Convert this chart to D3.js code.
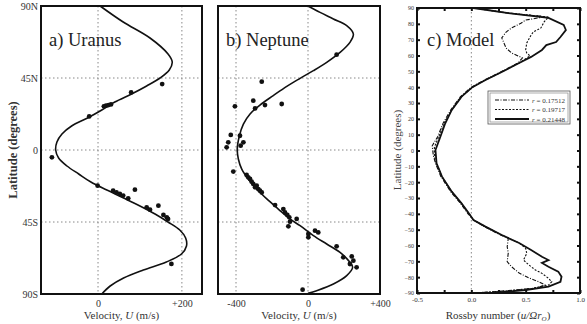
<!DOCTYPE html>
<html>
<head>
<meta charset="utf-8">
<script src="https://cdn.jsdelivr.net/npm/d3@7"></script>
<style>
  body { margin: 0; background: #fff; }
  svg, svg text { font-family: "Liberation Serif", "DejaVu Serif", serif !important; }
  svg { display: block; }
  .tick text { fill: #333; }
  .frame { fill: none; stroke: #111; stroke-width: 2; }
  .grid { stroke: #888; stroke-width: 1; stroke-dasharray: 1.5,2.5; }
</style>
</head>
<body>
<svg id="chart" width="587" height="324"></svg>
<script>
// ---- data: [latitude, value] ----
const uranusCurve = [[90,5],[80,60],[70,124],[60,167],[55,177],[50,170],[45,148],[40,116],[35,80],[30,40],
  [25,9],[20,-25],[15,-63],[10,-86],[5,-98],[0,-101],[-5,-94],[-10,-74],[-15,-46],[-20,-17],[-25,21],
  [-30,61],[-35,100],[-40,136],[-45,167],[-50,195],[-55,209],[-60,211],[-65,199],[-70,163],[-75,108],
  [-80,61],[-85,29],[-90,9]];
const uranusObs = [[41.2,153],[36,79],[21,-21],[27.7,19],[28.1,25],[28.5,31],[27.3,14],[-4.6,-110],
  [-22.3,-1],[-24.8,88],[-25.4,36],[-26.5,44],[-27.5,52],[-28.5,60],[-30.2,72],[-35.8,116],[-37.3,124],
  [-34.8,144],[-40.6,156],[-42.1,164],[-43.1,167],[-71.2,175]];

const neptuneCurve = [[90,0],[86,67],[81.9,141],[77.7,215],[72.5,252],[67.3,233],[61,178],[54.8,104],
  [49.6,30],[44.8,-44],[39.8,-118],[34,-193],[28.1,-267],[22.5,-322],[16.2,-359],[8.9,-381],[0.6,-393],
  [-5.6,-387],[-11.9,-368],[-18.1,-332],[-24.4,-285],[-30.6,-229],[-36.9,-165],[-43.1,-100],[-47.3,-44],
  [-53.5,30],[-58.75,104],[-64,178],[-70.2,233],[-73.3,248],[-78.5,215],[-83.75,141],[-87.9,48],[-89.6,0]];
const neptuneObs = [[59.6,159],[42.7,-257],[30.8,-304],[27.3,-406],[28.1,-239],[28.75,-146],[26,-294],
  [9.4,-429],[4.8,-443],[1.7,-452],[8.9,-378],[4.8,-359],[2.7,-374],[-13.5,-415],[-15.6,-341],[-17.1,-332],
  [-18.1,-322],[-19.8,-313],[-21.25,-304],[-22.3,-285],[-24.4,-276],[-25.4,-267],[-23.3,-294],[-26.5,-257],
  [-34.4,-183],[-36.9,-137],[-39,-128],[-40.6,-115],[-42.1,-104],[-44.8,-100],[-47.7,-109],[-43.1,-63],
  [-52.5,2],[-54.6,2],[-50.4,39],[-51.5,57],[-60.2,159],[-67.1,196],[-66.5,243],[-69.2,252],[-71.25,233],
  [-73.3,270],[-87.3,-30]];

// model Rossby number profiles, [latitude, Ro]
const modelR17512 = [[90,0.02],[86.8,0.34],[84.5,0.68],[82.4,0.5],[80.5,0.46],[77.4,0.37],[74.8,0.32],
  [71.1,0.28],[67.9,0.3],[64.7,0.32],[61.6,0.37],[58.5,0.47],[55.3,0.43],[49.6,0.27],[44.5,0.12],[40,0],
  [34,-0.1],[25.6,-0.19],[17.2,-0.26],[8.7,-0.31],[3,-0.36],[-3,-0.35],[-8.1,-0.33],[-16.5,-0.28],
  [-26,-0.19],[-33.4,-0.1],[-40,-0.03],[-43.9,0.02],[-48.1,0.12],[-53.4,0.27],[-55.5,0.34],[-60.8,0.33],
  [-64.7,0.34],[-70.2,0.33],[-73.4,0.37],[-77.4,0.44],[-80.5,0.53],[-82.9,0.62],[-85,0.68],[-87,0.59],
  [-88.5,0.34],[-90,0.02]];
const modelR19717 = [[90,0.02],[86.8,0.34],[84.3,0.71],[81.2,0.67],[77.4,0.64],[74.8,0.57],[72.9,0.55],
  [67.9,0.51],[63.5,0.5],[61.6,0.51],[59.7,0.54],[55.3,0.44],[49.6,0.28],[44.5,0.13],[40,0.01],[34,-0.09],
  [25.6,-0.18],[17.2,-0.25],[8.7,-0.3],[2,-0.34],[-4,-0.34],[-8.1,-0.32],[-16.5,-0.27],[-26,-0.18],
  [-33.4,-0.09],[-40,-0.02],[-43.9,0.02],[-48.1,0.13],[-53.4,0.28],[-58.4,0.44],[-61.8,0.5],[-65,0.51],
  [-69.2,0.48],[-72.3,0.53],[-75.5,0.59],[-77.6,0.65],[-80.7,0.71],[-82.9,0.74],[-85,0.71],[-87,0.56],
  [-88.7,0.34],[-90,0.02]];
const modelR21448 = [[90,0.02],[86.8,0.34],[83.7,0.71],[79.3,0.85],[76.1,0.87],[71.7,0.82],[68.5,0.78],
  [66.6,0.69],[63.5,0.65],[59.1,0.55],[55.3,0.44],[49.6,0.28],[44.5,0.13],[40,0.01],[34,-0.09],
  [25.6,-0.18],[17.2,-0.24],[8.7,-0.285],[0.3,-0.33],[-8.1,-0.32],[-16.5,-0.27],[-26,-0.18],[-33.4,-0.09],
  [-40,-0.02],[-43.9,0.02],[-48.1,0.13],[-53.4,0.28],[-58.4,0.44],[-62.8,0.55],[-67.1,0.65],[-69.2,0.71],
  [-71,0.65],[-73.4,0.71],[-76.5,0.8],[-79.7,0.83],[-82.9,0.82],[-86,0.71],[-88.1,0.5],[-89.8,0.22],[-90,0.02]];

const modelSeries = ['r = 0.17512', 'r = 0.19717', 'r = 0.21448'];

// tick labels
const latTicks = [90, 45, 0, -45, -90];
const latLabels = ['90N', '45N', '0', '45S', '90S'];
const uranusTicks = [0, 200];
const uranusTickLabels = ['0', '+200'];
const neptuneTicks = [-400, 0, 400];
const neptuneTickLabels = ['-400', '0', '+400'];
const modelLatTicks = d3.range(90, -91, -10);
const modelRoTicks = [-0.5, 0, 0.5, 1.0];
const modelRoLabels = ['-0.5', '0.0', '0.5', '1.0'];

const FONT = 'Liberation Serif';
const svg = d3.select('#chart');

// ---------- panels a) and b) ----------
function drawPlanet(cfg) {
  const x = d3.scaleLinear().domain(cfg.domain).range([cfg.left, cfg.right]);
  const y = d3.scaleLinear().domain([-90, 90]).range([294, 6]);
  const g = svg.append('g');

  // dotted grid
  g.selectAll('.vgrid').data(cfg.grid).join('line')
    .attr('class', 'grid')
    .attr('x1', d => x(d)).attr('x2', d => x(d))
    .attr('y1', y(90)).attr('y2', y(-90));
  g.selectAll('.hgrid').data([45, 0, -45]).join('line')
    .attr('class', 'grid')
    .attr('x1', cfg.left).attr('x2', cfg.right)
    .attr('y1', d => y(d)).attr('y2', d => y(d));

  // axes
  const xAxis = d3.axisBottom(x).tickValues(cfg.ticks)
    .tickFormat((d, i) => cfg.tickLabels[i]).tickSize(0).tickPadding(6);
  g.append('g').attr('transform', `translate(0,${y(-90)})`).call(xAxis)
    .attr('font-family', FONT)
    .call(a => a.select('.domain').remove())
    .selectAll('text').style('font-size', '10px');

  if (cfg.showLat) {
    const yAxis = d3.axisLeft(y).tickValues(latTicks)
      .tickFormat((d, i) => latLabels[i]).tickSize(0).tickPadding(3);
    g.append('g').attr('transform', `translate(${cfg.left},0)`).call(yAxis)
      .attr('font-family', FONT)
      .call(a => a.select('.domain').remove())
      .selectAll('text').style('font-size', '10px');
  }

  // curve and observations
  const line = d3.line()
    .x(d => x(d[1])).y(d => y(d[0]))
    .curve(d3.curveCatmullRom.alpha(0.5));
  g.append('path').datum(cfg.curve)
    .attr('d', line).attr('fill', 'none').attr('stroke', '#111').attr('stroke-width', 1.6);

  g.selectAll('.obs').data(cfg.obs).join('circle')
    .attr('cx', d => x(d[1])).attr('cy', d => y(d[0])).attr('r', 2.4).attr('fill', '#111');

  g.append('rect').attr('class', 'frame')
    .attr('x', cfg.left).attr('y', y(90))
    .attr('width', cfg.right - cfg.left).attr('height', y(-90) - y(90));

  g.append('text').attr('x', cfg.left + 8).attr('y', 46)
    .style('font-size', '18.5px').attr('fill', '#222').text(cfg.title);

  const xl = g.append('text').attr('x', (cfg.left + cfg.right) / 2).attr('y', 319)
    .attr('text-anchor', 'middle').style('font-size', '11px').attr('fill', '#333');
  xl.append('tspan').text('Velocity, ');
  xl.append('tspan').style('font-style', 'italic').text('U');
  xl.append('tspan').text(' (m/s)');
}

drawPlanet({ left: 41, right: 202, domain: [-136, 248], grid: [0, 200],
  ticks: uranusTicks, tickLabels: uranusTickLabels, curve: uranusCurve, obs: uranusObs,
  title: 'a) Uranus', showLat: true });
drawPlanet({ left: 218, right: 380, domain: [-500, 400], grid: [-400, 0],
  ticks: neptuneTicks, tickLabels: neptuneTickLabels, curve: neptuneCurve, obs: neptuneObs,
  title: 'b) Neptune', showLat: false });

svg.append('text')
  .attr('transform', 'translate(17,150) rotate(-90)')
  .attr('text-anchor', 'middle').style('font-size', '12.5px').style('font-weight', 'bold')
  .attr('fill', '#333').text('Latitude (degrees)');

// ---------- panel c) ----------
const cx = d3.scaleLinear().domain([-0.5, 1.0]).range([417, 580]);
const cy = d3.scaleLinear().domain([-90, 90]).range([293, 8]);
const gc = svg.append('g');

gc.append('line').attr('class', 'grid')
  .attr('x1', cx(0)).attr('x2', cx(0)).attr('y1', cy(90)).attr('y2', cy(-90));

const minorRo = d3.range(-0.5, 1.01, 0.25);
gc.append('g').attr('transform', `translate(0,${cy(-90)})`)
  .call(d3.axisBottom(cx).tickValues(modelRoTicks).tickFormat((d, i) => modelRoLabels[i])
    .tickSize(0).tickPadding(4))
  .attr('font-family', FONT)
  .call(a => a.select('.domain').remove())
  .selectAll('text').style('font-size', '7px');
gc.append('g').attr('transform', `translate(0,${cy(-90)})`)
  .call(d3.axisTop(cx).tickValues(minorRo).tickFormat('').tickSize(3))
  .call(a => a.select('.domain').remove())
  .selectAll('line').attr('stroke', '#111').attr('stroke-width', 2);
gc.append('g').attr('transform', `translate(0,${cy(90)})`)
  .call(d3.axisBottom(cx).tickValues(minorRo).tickFormat('').tickSize(3))
  .call(a => a.select('.domain').remove())
  .selectAll('line').attr('stroke', '#111').attr('stroke-width', 2);

gc.append('g').attr('transform', `translate(${cx(-0.5)},0)`)
  .call(d3.axisRight(cy).tickValues(modelLatTicks).tickFormat('').tickSize(3))
  .call(a => a.select('.domain').remove())
  .selectAll('line').attr('stroke', '#111').attr('stroke-width', 2);
gc.append('g').attr('transform', `translate(${cx(-0.5)},0)`)
  .call(d3.axisLeft(cy).tickValues(modelLatTicks).tickFormat(d3.format('d')).tickSize(0).tickPadding(3))
  .attr('font-family', FONT)
  .call(a => a.select('.domain').remove())
  .selectAll('text').style('font-size', '6px');
gc.append('g').attr('transform', `translate(${cx(1.0)},0)`)
  .call(d3.axisLeft(cy).tickValues(modelLatTicks).tickFormat('').tickSize(3))
  .call(a => a.select('.domain').remove())
  .selectAll('line').attr('stroke', '#111').attr('stroke-width', 2);

const mline = d3.line().x(d => cx(d[1])).y(d => cy(d[0]));
const modelData = [modelR17512, modelR19717, modelR21448];
const modelDash = ['4,1.5,1,1.5', '2,1.5', null];
const modelWidth = [1.1, 1.1, 1.8];

gc.selectAll('.model').data(modelData).join('path')
  .attr('class', 'model')
  .attr('d', mline).attr('fill', 'none').attr('stroke', '#111')
  .attr('stroke-width', (d, i) => modelWidth[i])
  .attr('stroke-dasharray', (d, i) => modelDash[i]);

gc.append('rect').attr('class', 'frame')
  .attr('x', cx(-0.5)).attr('y', cy(90))
  .attr('width', cx(1.0) - cx(-0.5)).attr('height', cy(-90) - cy(90));

gc.append('text').attr('x', 427).attr('y', 46)
  .style('font-size', '18.5px').attr('fill', '#222').text('c) Model');

// legend
const lg = gc.append('g').attr('transform', 'translate(488,91)');
lg.append('rect').attr('width', 82).attr('height', 33)
  .attr('fill', '#fff').attr('stroke', '#555').attr('stroke-width', 0.8);
lg.append('rect').attr('x', 2).attr('y', 2).attr('width', 78).attr('height', 29)
  .attr('fill', 'none').attr('stroke', '#777').attr('stroke-width', 0.6);
const li = lg.selectAll('.li').data(modelSeries).join('g')
  .attr('transform', (d, i) => `translate(0,${9 + i * 9.5})`);
li.append('line').attr('x1', 7).attr('x2', 41).attr('y1', 0).attr('y2', 0)
  .attr('stroke', '#111')
  .attr('stroke-width', (d, i) => i === 2 ? 1.8 : 1.2)
  .attr('stroke-dasharray', (d, i) => modelDash[i]);
const lt = li.append('text').attr('x', 44).attr('y', 2.5).style('font-size', '7px').attr('fill', '#333');
lt.append('tspan').style('font-style', 'italic').text(d => d.split(' ')[0]);
lt.append('tspan').text(d => ' ' + d.split(' ').slice(1).join(' '));

// axis titles
svg.append('text')
  .attr('transform', 'translate(401,150) rotate(-90)')
  .attr('text-anchor', 'middle').style('font-size', '11px').attr('fill', '#444')
  .text('Latitude (degrees)');

const rt = svg.append('text').attr('x', 498).attr('y', 319)
  .attr('text-anchor', 'middle').style('font-size', '11px').attr('fill', '#333');
rt.append('tspan').text('Rossby number (');
rt.append('tspan').style('font-style', 'italic').text('u/\u03A9r');
rt.append('tspan').style('font-style', 'italic').style('font-size', '7px').attr('dy', 2).text('O');
rt.append('tspan').attr('dy', -2).text(')');
</script>
</body>
</html>
